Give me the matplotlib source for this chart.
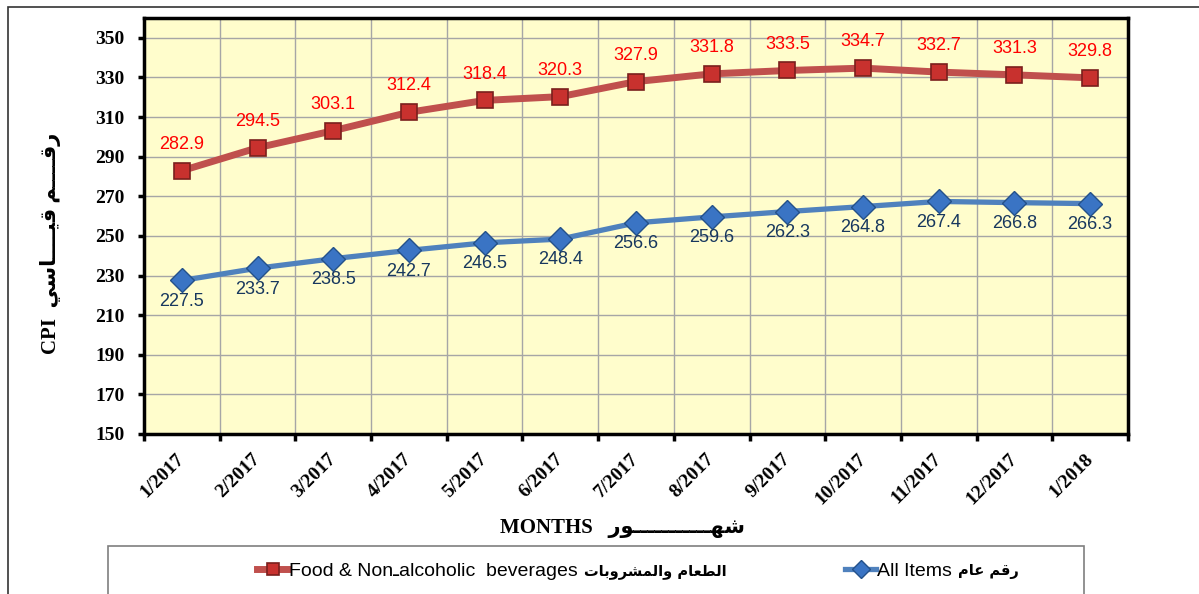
import matplotlib
matplotlib.use("Agg")
import matplotlib.pyplot as plt
from matplotlib.patches import Rectangle
import numpy as np

months = ["1/2017", "2/2017", "3/2017", "4/2017", "5/2017", "6/2017", "7/2017",
          "8/2017", "9/2017", "10/2017", "11/2017", "12/2017", "1/2018"]
food = [282.9, 294.5, 303.1, 312.4, 318.4, 320.3, 327.9, 331.8, 333.5, 334.7, 332.7, 331.3, 329.8]
all_items = [227.5, 233.7, 238.5, 242.7, 246.5, 248.4, 256.6, 259.6, 262.3, 264.8, 267.4, 266.8, 266.3]
yticks = list(range(150, 351, 20))

def vis(*cps):
    return "".join(chr(c) for c in cps)

TAT = "\u0640"
ar_food = vis(0xFE95, 0xFE8E, 0xFE91, 0xFEED, 0xFEAE, 0xFEB8, 0xFEE4, 0xFEDF, 0xFE8D, 0xFEED) + " " + \
          vis(0xFEE1, 0xFE8E, 0xFECC, 0xFEC4, 0xFEDF, 0xFE8D)
ar_all = vis(0xFEE1, 0xFE8E, 0xFECB) + " " + vis(0xFEE2, 0xFED7, 0xFEAD)
ar_qiasi = vis(0xFEF2, 0xFEB3, 0xFE8E) + TAT * 4 + vis(0xFEF4, 0xFED7)
ar_raqm = vis(0xFEE2) + TAT * 4 + vis(0xFED7, 0xFEAD)
ar_shuhur = vis(0xFEAD, 0xFEEE) + TAT * 11 + vis(0xFEEC, 0xFEB7)

label_food = "Food & Non" + TAT + "alcoholic  beverages"
label_all = "All Items"
legend_arabic = [ar_food, ar_all]

W, H = 1199, 594
fig = plt.figure(figsize=(W / 100, H / 100), dpi=100)

# outer frame
fig.patches.append(Rectangle((8 / W, -0.1), 1.2, 1 - 7 / H + 0.1, transform=fig.transFigure,
                             fill=False, edgecolor="#333333", linewidth=1.2))

ax = fig.add_axes([144 / W, 1 - 434 / H, (1128 - 144) / W, (434 - 18) / H])
ax.set_facecolor("#FFFDCC")

x = np.arange(len(months))
ax.plot(x, food, color="#C0504D", linewidth=5, marker="s", markersize=12,
        markerfacecolor="#C8312E", markeredgecolor="#7A1F1D", markeredgewidth=1.2,
        label=label_food, zorder=4)
ax.plot(x, all_items, color="#4F81BD", linewidth=3.8, marker="D", markersize=12,
        markerfacecolor="#3A74C4", markeredgecolor="#24518A", markeredgewidth=1.0,
        label=label_all, zorder=4)

for xi, v in zip(x, food):
    ax.annotate(f"{v:.1f}", (xi, v), xytext=(0, 19), textcoords="offset points",
                ha="center", va="center", color="#FF0000", fontsize=13,
                family=["Liberation Sans"], zorder=5)
for xi, v in zip(x, all_items):
    ax.annotate(f"{v:.1f}", (xi, v), xytext=(0, -15), textcoords="offset points",
                ha="center", va="center", color="#17375E", fontsize=13,
                family=["Liberation Sans"], zorder=5)

ax.set_xlim(-0.5, len(months) - 0.5)
ax.set_ylim(150, 360)
ax.set_yticks(yticks)
ax.set_yticklabels([str(t) for t in yticks], fontsize=14, fontweight="bold",
                   family=["Liberation Serif"])
ax.set_xticks(x)
ax.set_xticklabels(months, rotation=45, ha="right", va="center", rotation_mode="anchor",
                   fontsize=14, fontweight="bold", family=["Liberation Serif"])
ax.set_xticks(np.arange(-0.5, len(months), 1.0), minor=True)
ax.tick_params(axis="x", which="major", length=0, pad=16)
ax.tick_params(axis="x", which="minor", length=5, width=2.5, direction="out", color="black")
ax.tick_params(axis="y", which="major", length=4.5, width=2.5, direction="out", pad=9.5)
ax.grid(True, axis="y", which="major", color="#A6A6A6", linewidth=1, zorder=0)
ax.grid(True, axis="x", which="minor", color="#A6A6A6", linewidth=1, zorder=0)
ax.set_axisbelow(True)
for s in ax.spines.values():
    s.set_linewidth(2.5)
    s.set_color("black")

fig.text(51 / W, 1 - 243 / H, "CPI  " + ar_qiasi + " " + ar_raqm, rotation=90,
         ha="center", va="center", fontsize=15, fontweight="bold",
         family=["Liberation Serif", "DejaVu Sans"])
fig.text(622 / W, 1 - 528 / H, "MONTHS   " + ar_shuhur, ha="center", va="center",
         fontsize=15, fontweight="bold", family=["Liberation Serif", "DejaVu Sans"])

# legend frame
fig.patches.append(Rectangle((108 / W, -0.1), (1084 - 108) / W, 1 - 546 / H + 0.1,
                             transform=fig.transFigure, fill=False,
                             edgecolor="#7F7F7F", linewidth=1.2))
leg = fig.legend(loc="center left", bbox_to_anchor=(257 / W, 1 - 571 / H), ncol=2, frameon=False,
                 columnspacing=13.75, handlelength=1.6, handletextpad=0.05, markerscale=0.75,
                 borderpad=0, borderaxespad=0,
                 prop={"family": ["Liberation Sans", "DejaVu Sans"], "size": 14})

fig.canvas.draw()
renderer = fig.canvas.get_renderer()
for txt, ar in zip(leg.get_texts(), legend_arabic):
    bb = txt.get_window_extent(renderer)
    fig.text(bb.x1 + 6, (bb.y0 + bb.y1) / 2, ar, transform=None, ha="left", va="center",
             fontsize=10.5, fontweight="bold", family=["DejaVu Sans"])

fig.savefig("out.png", dpi=100)
